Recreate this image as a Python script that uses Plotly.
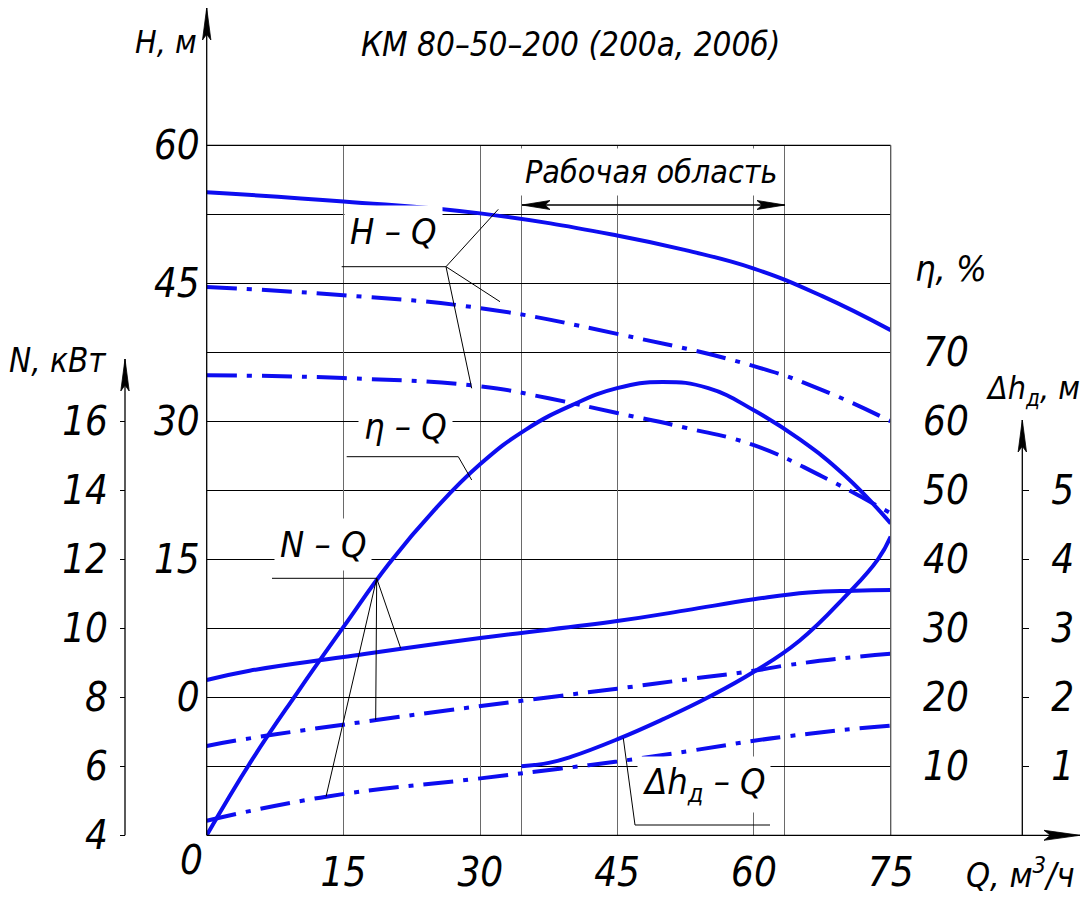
import math
import plotly.graph_objects as go

# ---------------- data ----------------
q_tick_vals = [15, 30, 45, 60, 75]
q_work_bounds = [34.5, 63.4]           # "Рабочая область" limits
h_tick_vals = [0, 15, 30, 45, 60]
h_minor_vals = [-7.5, 7.5, 22.5, 37.5, 52.5]
n_tick_vals = [4, 6, 8, 10, 12, 14, 16]
eta_tick_vals = [10, 20, 30, 40, 50, 60, 70]
dh_tick_vals = [1, 2, 3, 4, 5]

# H-Q, impeller 200 (solid)
q_h200 = [0, 15, 30, 45, 52.5, 60, 67.5, 75]
h_200 = [54.9, 53.9, 52.6, 50.2, 48.6, 46.6, 43.6, 39.9]
# H-Q, impeller 200a (dash-dot)
q_h200a = [0, 15, 30, 45, 60, 67.5, 75]
h_200a = [44.6, 43.7, 42.3, 39.5, 36.0, 33.4, 30.0]
# H-Q, impeller 200b (dash-dot)
q_h200b = [0, 15, 30, 37.5, 45, 52.5, 60, 67.5, 75]
h_200b = [35.0, 34.7, 33.8, 32.5, 30.9, 29.3, 27.4, 24.0, 20.0]

# eta-Q (solid)
q_eta = [0, 5, 10, 15, 20, 25, 30, 35, 40, 45, 50, 55, 60, 65, 70, 75]
eta = [0, 11.0, 20.8, 30.2, 39.4, 47.2, 53.8, 58.8, 62.3, 64.8, 65.7, 64.8, 61.6, 57.4, 52.1, 45.2]

# N-Q
q_n200 = [0, 4.7, 15, 30, 45, 52.5, 60, 66, 71, 75]
n_200 = [8.50, 8.77, 9.17, 9.72, 10.21, 10.52, 10.84, 11.04, 11.09, 11.11]
q_n200a = [0, 4.7, 18.6, 26.7, 38.7, 45, 53.3, 60, 63.4, 69.7, 75]
n_200a = [6.59, 6.81, 7.34, 7.63, 8.04, 8.25, 8.54, 8.77, 8.92, 9.13, 9.26]
q_n200b = [0, 13.1, 30, 38.7, 45, 53.3, 60, 63.4, 69.7, 75]
n_200b = [4.42, 5.12, 5.65, 5.93, 6.14, 6.46, 6.74, 6.86, 7.05, 7.18]

# dh-Q (solid)
q_dh = [34.5, 37.5, 40, 45, 50, 55, 60, 65, 70, 73.6, 75]
dh = [1.0, 1.05, 1.14, 1.39, 1.68, 2.0, 2.37, 2.82, 3.46, 4.0, 4.33]

# ---------------- geometry / style ----------------
FIG_W, FIG_H = 1084, 903
GRID_L, GRID_R, GRID_T, GRID_B = 206.7, 890.7, 145.3, 835.3


def fx(p):
    return p / FIG_W


def fy(p):
    return 1 - p / FIG_H


FONT = "Liberation Sans Narrow, DejaVu Sans Condensed, sans-serif"
BLUE = "#0d0df0"
DASHDOT = "30px,10px,5px,10px"
tickfont = dict(family=FONT, size=40, color="black", style="italic")
labfont = dict(family=FONT, size=36, color="black", style="italic")


def f(size):
    return dict(family=FONT, size=size, color="black", style="italic")


fig = go.Figure()


def curve(x, y, axis, dash=None):
    fig.add_trace(go.Scatter(
        x=x, y=y, yaxis=axis, mode="lines", line_shape="spline",
        line=dict(color=BLUE, width=4, dash=dash, smoothing=1.3), hoverinfo="skip", showlegend=False))


curve(q_h200, h_200, "y")
curve(q_h200a, h_200a, "y", DASHDOT)
curve(q_h200b, h_200b, "y", DASHDOT)
curve(q_eta, eta, "y3")
curve(q_n200, n_200, "y2")
curve(q_n200a, n_200a, "y2", DASHDOT)
curve(q_n200b, n_200b, "y2", DASHDOT)
curve(q_dh, dh, "y4")

# ---------------- axes ----------------
fig.update_layout(
    template="none",
    width=FIG_W, height=FIG_H, margin=dict(l=0, r=0, t=0, b=0, pad=0), autosize=False,
    paper_bgcolor="white", plot_bgcolor="white", showlegend=False,
    xaxis=dict(domain=[fx(GRID_L), fx(GRID_R)], range=[0, 75], tickmode="array", tickvals=q_tick_vals,
               showgrid=True, gridcolor="#6a6a6a", gridwidth=1.3, zeroline=False, showline=False,
               minor=dict(tickmode="array", tickvals=q_work_bounds, showgrid=True,
                          gridcolor="#6a6a6a", gridwidth=1.3, ticks=""),
               ticks="", tickfont=tickfont, ticklabelstandoff=10, automargin=False, fixedrange=True),
    yaxis=dict(domain=[fy(GRID_B), fy(GRID_T)], range=[-15, 60], tickmode="array", tickvals=h_tick_vals,
               showgrid=True, gridcolor="black", gridwidth=1, zeroline=False, showline=False,
               minor=dict(tickmode="array", tickvals=h_minor_vals, showgrid=True,
                          gridcolor="black", gridwidth=1, ticks=""),
               ticks="", tickfont=tickfont, ticklabelstandoff=6, automargin=False, fixedrange=True),
    yaxis2=dict(overlaying="y", anchor="free", position=fx(125), side="left", range=[4, 24],
                tickmode="array", tickvals=n_tick_vals, showgrid=False, zeroline=False, showline=False,
                ticks="outside", ticklen=5, tickcolor="black", tickwidth=1,
                tickfont=tickfont, ticklabelstandoff=4, automargin=False, fixedrange=True),
    yaxis3=dict(overlaying="y", anchor="free", position=fx(922), side="right", range=[0, 100],
                tickmode="array", tickvals=eta_tick_vals, showgrid=False, zeroline=False, showline=False,
                ticks="", tickfont=tickfont, automargin=False, fixedrange=True),
    yaxis4=dict(overlaying="y", anchor="free", position=fx(1022.3), side="right", range=[0, 10],
                tickmode="array", tickvals=dh_tick_vals, showgrid=False, zeroline=False, showline=False,
                ticks="outside", ticklen=6, tickcolor="black", tickwidth=1,
                tickfont=tickfont, ticklabelstandoff=14, automargin=False, fixedrange=True),
)

# ---------------- axis lines with arrows, leader lines ----------------
shapes = []


def line(x0, y0, x1, y1, w=1.0, color="black"):
    shapes.append(dict(type="line", xref="paper", yref="paper", x0=fx(x0), y0=fy(y0),
                       x1=fx(x1), y1=fy(y1), line=dict(color=color, width=w)))


def head(xt, yt, xb, yb, head_len=32, head_w=4.2):
    dx, dy = xt - xb, yt - yb
    L = math.hypot(dx, dy)
    ux, uy = dx / L, dy / L
    bx, by = xt - ux * head_len, yt - uy * head_len
    nx, ny = -uy, ux
    p1 = (bx + nx * head_w, by + ny * head_w)
    p2 = (bx - nx * head_w, by - ny * head_w)
    nt = (xt - ux * head_len * 0.82, yt - uy * head_len * 0.82)
    path = "M {},{} L {},{} L {},{} L {},{} Z".format(
        fx(xt), fy(yt), fx(p1[0]), fy(p1[1]), fx(nt[0]), fy(nt[1]), fx(p2[0]), fy(p2[1]))
    shapes.append(dict(type="path", xref="paper", yref="paper", path=path,
                       fillcolor="black", line=dict(color="black", width=0.8)))


def arrow(x0, y0, x1, y1, **kw):
    line(x0, y0, x1, y1, w=1.3)
    head(x1, y1, x0, y0, **kw)


# grid frame: top (H = 60) and right (Q = 75) edges
line(GRID_L, GRID_T, GRID_R, GRID_T, w=1.2)
line(GRID_R, GRID_T, GRID_R, GRID_B, w=1.3, color="#555555")

arrow(GRID_L, GRID_B, GRID_L, 8)            # H axis
arrow(125, GRID_B, 125, 359)               # N axis
arrow(1022.3, GRID_B, 1022.3, 420)         # dh axis
arrow(GRID_L, GRID_B, 1080, GRID_B, head_len=36, head_w=5)   # Q axis
# working region double arrow
line(522, 205, 785, 205, w=1.3)
head(522, 205, 785, 205, head_len=28, head_w=4.5)
head(785, 205, 522, 205, head_len=28, head_w=4.5)

# leaders: H-Q
line(341.7, 266.7, 446, 266.7)
line(446, 266.7, 498.3, 209.3)
line(446, 266.7, 500, 301.7)
line(446, 266.7, 471.7, 388.3)
# eta-Q
line(346.7, 456.7, 458.3, 456.7)
line(458.3, 456.7, 471.7, 480)
# N-Q
line(272, 578.3, 376.7, 578.3)
line(376.7, 578.3, 400.7, 648.3)
line(376.7, 578.3, 375.7, 720)
line(376.7, 578.3, 326, 796.7)
# dh-Q
line(623.3, 738.3, 635, 825)
line(635, 825, 770, 825)

fig.update_layout(shapes=shapes)

# ---------------- texts ----------------


def text(x, y, s, bg=None, font=labfont, pad=2):
    fig.add_annotation(x=fx(x), y=fy(y), xref="paper", yref="paper", text=s, showarrow=False,
                       xanchor="center", yanchor="middle", font=font,
                       bgcolor=bg if bg else "rgba(0,0,0,0)", borderpad=pad)


text(570, 45, "КМ 80–50–200 (200а, 200б)", font=f(33))
text(166, 42, "H, м", font=f(32))
text(58, 361, "N, кВт", font=f(33))
text(951, 268, "η, %")
text(1033, 390, "Δh<sub>д</sub>, м", font=f(32))
text(1020, 873, "Q, м<sup>3</sup>/ч", font=f(34))
text(191, 860, "0", font=tickfont)
text(651, 172, "Рабочая область", bg="white", font=f(32), pad=4)
text(393, 232, "H – Q", bg="white", pad=5)
text(405, 427, "η – Q", bg="white", pad=5)
text(323, 544, "N – Q", bg="white", pad=5)
text(704, 784, "Δh<sub>д</sub> – Q", bg="white", pad=4)

fig.write_html("out.html", config={"displayModeBar": False},
               post_script="document.body.style.margin='0px';")
